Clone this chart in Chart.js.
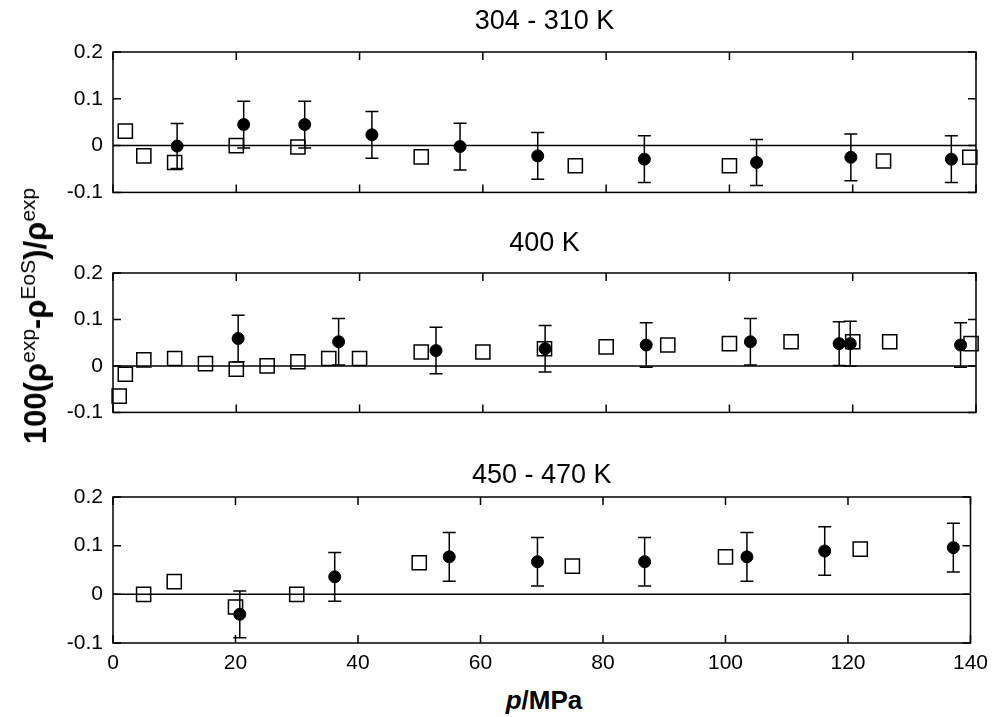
<!DOCTYPE html>
<html>
<head>
<meta charset="utf-8">
<script src="https://cdn.jsdelivr.net/npm/chart.js@4.4.0/dist/chart.umd.min.js"></script>
<style>
  body { margin: 0; background: #fff; width: 996px; height: 717px; position: relative; overflow: hidden;
         font-family: "Liberation Sans", Arial, sans-serif; }
  canvas.panel { position: absolute; left: 0; }
  #ylab { position: absolute; left: 36px; top: 316px; transform: translate(-50%, -50%) rotate(-90deg);
          white-space: nowrap; font-size: 31px; font-weight: bold; color: #000; }
  #ylab sup { font-size: 21px; font-weight: normal; vertical-align: 11px; line-height: 0; }
  #xlab { position: absolute; left: 544px; top: 700px; transform: translate(-50%, -50%);
          white-space: nowrap; font-size: 26px; font-weight: bold; color: #000; }
</style>
</head>
<body>
<canvas id="c1" class="panel" width="996" height="215" style="top:0px"></canvas>
<canvas id="c2" class="panel" width="996" height="215" style="top:220px"></canvas>
<canvas id="c3" class="panel" width="996" height="237" style="top:440px"></canvas>
<div id="ylab">100(&rho;<sup>exp</sup>-&rho;<sup>EoS</sup>)/&rho;<sup>exp</sup></div>
<div id="xlab"><i>p</i>/MPa</div>
<script>
var panelTitles = ["304 - 310 K", "400 K", "450 - 470 K"];

// 304 - 310 K
var sq1P = [2, 5, 10, 20, 30, 50, 75, 100, 125, 139];
var sq1D = [0.031, -0.022, -0.036, 0.0, -0.003, -0.024, -0.043, -0.043, -0.033, -0.025];
var ci1P = [10.4, 21.2, 31.1, 42.0, 56.3, 68.9, 86.2, 104.4, 119.7, 136.0];
var ci1D = [-0.001, 0.045, 0.045, 0.023, -0.002, -0.022, -0.029, -0.036, -0.025, -0.029];
var ci1E = [0.048, 0.05, 0.05, 0.05, 0.05, 0.05, 0.05, 0.049, 0.05, 0.05];

// 400 K
var sq2P = [1, 2, 5, 10, 15, 20, 25, 30, 35, 40, 50, 60, 70, 80, 90, 100, 110, 120, 126, 139.2];
var sq2D = [-0.065, -0.018, 0.013, 0.016, 0.005, -0.007, 0.0, 0.009, 0.016, 0.016, 0.03, 0.03,
            0.037, 0.041, 0.045, 0.048, 0.052, 0.052, 0.052, 0.048];
var ci2P = [20.3, 36.6, 52.4, 70.1, 86.5, 103.4, 117.8, 119.6, 137.5];
var ci2D = [0.059, 0.052, 0.033, 0.037, 0.045, 0.052, 0.048, 0.048, 0.045];
var ci2E = [0.05, 0.05, 0.05, 0.05, 0.048, 0.05, 0.047, 0.048, 0.048];

// 450 - 470 K
var sq3P = [5, 10, 20, 30, 50, 75, 100, 122];
var sq3D = [0.0, 0.026, -0.026, 0.0, 0.065, 0.058, 0.077, 0.093];
var ci3P = [20.7, 36.2, 54.9, 69.3, 86.8, 103.5, 116.2, 137.2];
var ci3D = [-0.041, 0.036, 0.077, 0.067, 0.067, 0.077, 0.089, 0.096];
var ci3E = [0.048, 0.05, 0.05, 0.05, 0.05, 0.05, 0.05, 0.05];

var pMin = 0, pMax = 140, pStep = 20;
var dMin = -0.1, dMax = 0.2, dStep = 0.1;

function pts(xs, ys) {
  return xs.map(function (x, i) { return { x: x, y: ys[i] }; });
}

// vertical error bars with caps, drawn under the markers
var errorBars = {
  id: "errorBars",
  beforeDatasetsDraw: function (chart) {
    var ctx = chart.ctx, y = chart.scales.y;
    chart.data.datasets.forEach(function (ds, i) {
      if (!ds.errors) return;
      var meta = chart.getDatasetMeta(i);
      ctx.save();
      ctx.strokeStyle = "#000";
      ctx.lineWidth = 1.5;
      ctx.beginPath();
      meta.data.forEach(function (pt, j) {
        var v = ds.data[j].y, e = ds.errors[j];
        var top = y.getPixelForValue(v + e), bot = y.getPixelForValue(v - e);
        ctx.moveTo(pt.x, top); ctx.lineTo(pt.x, bot);
        ctx.moveTo(pt.x - 6.5, top); ctx.lineTo(pt.x + 6.5, top);
        ctx.moveTo(pt.x - 6.5, bot); ctx.lineTo(pt.x + 6.5, bot);
      });
      ctx.stroke();
      ctx.restore();
    });
  }
};

// box round the plot with inward tick marks on all four sides
var frame = {
  id: "frame",
  afterDatasetsDraw: function (chart) {
    var ctx = chart.ctx, a = chart.chartArea, x = chart.scales.x, y = chart.scales.y;
    ctx.save();
    ctx.strokeStyle = "#000";
    ctx.lineWidth = 1.5;
    ctx.strokeRect(a.left, a.top, a.right - a.left, a.bottom - a.top);
    ctx.beginPath();
    x.ticks.forEach(function (t) {
      var px = x.getPixelForValue(t.value);
      ctx.moveTo(px, a.top); ctx.lineTo(px, a.top + 8);
      ctx.moveTo(px, a.bottom); ctx.lineTo(px, a.bottom - 8);
    });
    y.ticks.forEach(function (t) {
      var py = y.getPixelForValue(t.value);
      ctx.moveTo(a.left, py); ctx.lineTo(a.left + 8, py);
      ctx.moveTo(a.right, py); ctx.lineTo(a.right - 8, py);
    });
    ctx.stroke();
    ctx.restore();
  }
};

function makePanel(id, title, sqP, sqD, ciP, ciD, ciE, lay) {
  return new Chart(document.getElementById(id), {
    type: "scatter",
    data: {
      datasets: [
        {
          label: "model",
          data: pts(ciP, ciD),
          errors: ciE,
          pointStyle: "circle",
          pointRadius: 6,
          backgroundColor: "#000",
          borderColor: "#000",
          borderWidth: 1,
          clip: false,
        },
        {
          label: "exp",
          data: pts(sqP, sqD),
          pointStyle: "rect",
          pointRadius: 10,
          backgroundColor: "rgba(0,0,0,0)",
          borderColor: "#000",
          borderWidth: 1.5,
          clip: false,
        },
        {
          label: "zero",
          type: "line",
          data: [{ x: pMin, y: 0 }, { x: pMax, y: 0 }],
          borderColor: "#000",
          borderWidth: 1.5,
          pointRadius: 0,
        },
      ],
    },
    plugins: [errorBars, frame],
    options: {
      responsive: false,
      animation: false,
      events: [],
      layout: { padding: { left: 0, right: 20, top: 0, bottom: 0 } },
      plugins: {
        legend: { display: false },
        tooltip: { enabled: false },
        title: {
          display: true,
          text: title,
          fullSize: false,
          color: "#000",
          font: { family: "Liberation Sans", size: 27, weight: "normal", lineHeight: 1.2 },
          padding: { top: lay.titleTop, bottom: lay.titleBottom },
        },
      },
      scales: {
        x: {
          type: "linear",
          min: pMin,
          max: pMax,
          grid: { display: false, drawTicks: false },
          border: { display: false },
          ticks: {
            display: lay.showX,
            stepSize: pStep,
            autoSkip: false,
            maxRotation: 0,
            padding: 8,
            color: "#000",
            font: { family: "Liberation Sans", size: 21 },
          },
          afterFit: function (s) { s.height = lay.xHeight; },
        },
        y: {
          min: dMin,
          max: dMax,
          grid: { display: false, drawTicks: false },
          border: { display: false },
          ticks: {
            stepSize: dStep,
            padding: 10,
            color: "#000",
            font: { family: "Liberation Sans", size: 21 },
            callback: function (v) { return String(+v.toFixed(2)); },
          },
          afterFit: function (s) { s.width = 113; },
        },
      },
    },
  });
}

makePanel("c1", panelTitles[0], sq1P, sq1D, ci1P, ci1D, ci1E,
  { titleTop: 5, titleBottom: 14.6, xHeight: 18, showX: false });
makePanel("c2", panelTitles[1], sq2P, sq2D, ci2P, ci2D, ci2E,
  { titleTop: 7.8, titleBottom: 12.8, xHeight: 14, showX: false });
makePanel("c3", panelTitles[2], sq3P, sq3D, ci3P, ci3D, ci3E,
  { titleTop: 19.8, titleBottom: 4.8, xHeight: 34, showX: true });
</script>
</body>
</html>
